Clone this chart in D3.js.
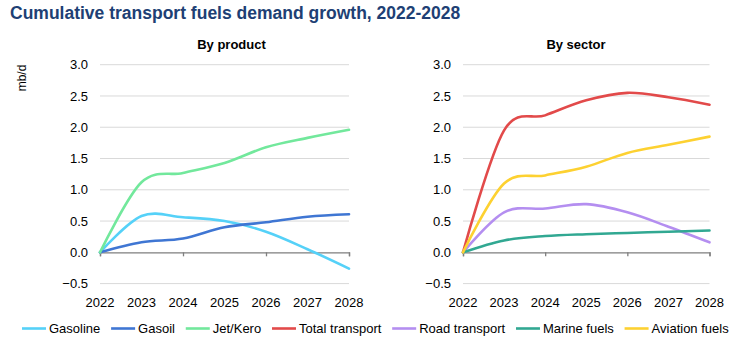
<!DOCTYPE html>
<meta charset="utf-8">
<style>
body { margin: 0; background: #fff; }
svg text { font-family: "Liberation Sans", Arial, sans-serif; }
.grid line { stroke: #d9d9d9; stroke-width: 1; }
.series { fill: none; stroke-width: 2.6; stroke-linejoin: round; stroke-linecap: round; }
</style>
<body>
<script src="https://cdn.jsdelivr.net/npm/d3@7"></script>
<script>

var width = 746,
    height = 347;

// data
var years = [2022, 2023, 2024, 2025, 2026, 2027, 2028];
var yTicks = [-0.5, 0, 0.5, 1.0, 1.5, 2.0, 2.5, 3.0];

var gasoline = [0, 0.58, 0.56, 0.50, 0.33, 0.05, -0.26];
var gasoil   = [0, 0.16, 0.22, 0.40, 0.48, 0.57, 0.61];
var jetKero  = [0, 1.12, 1.27, 1.43, 1.68, 1.83, 1.96];

var totalTransport = [0, 1.95, 2.19, 2.43, 2.55, 2.48, 2.36];
var roadTransport  = [0, 0.64, 0.70, 0.77, 0.64, 0.41, 0.16];
var marineFuels    = [0, 0.19, 0.26, 0.29, 0.31, 0.33, 0.35];
var aviationFuels  = [0, 1.10, 1.23, 1.37, 1.59, 1.72, 1.85];

var productSeries = [
  {name: "Gasoline", values: gasoline, color: "#55d1f8"},
  {name: "Gasoil", values: gasoil, color: "#3f76d3"},
  {name: "Jet/Kero", values: jetKero, color: "#72e89c"}
];
var sectorSeries = [
  {name: "Total transport", values: totalTransport, color: "#e24a4a"},
  {name: "Road transport", values: roadTransport, color: "#b48ef0"},
  {name: "Marine fuels", values: marineFuels, color: "#31a892"},
  {name: "Aviation fuels", values: aviationFuels, color: "#fdd131"}
];

var svg = d3.select("body").append("svg")
    .attr("width", width)
    .attr("height", height);

svg.append("text")
    .attr("x", 10)
    .attr("y", 19)
    .attr("fill", "#203f74")
    .attr("font-weight", "bold")
    .style("font-size", "17.5px")
    .text("Cumulative transport fuels demand growth, 2022-2028");

svg.append("text")
    .attr("transform", "translate(26,78) rotate(-90)")
    .attr("text-anchor", "middle")
    .style("font-size", "12px")
    .text("mb/d");

var y = d3.scaleLinear().domain([-0.5, 3]).range([283.6, 64.7]);

function drawPanel(title, series, x0, x1, labelX, titleX) {
  var x = d3.scaleLinear().domain([2022, 2028]).range([x0, x1]);
  var g = svg.append("g");

  g.append("text")
      .attr("x", titleX)
      .attr("y", 49)
      .attr("text-anchor", "middle")
      .attr("font-weight", "bold")
      .style("font-size", "13px")
      .text(title);

  var grid = g.append("g").attr("class", "grid");
  grid.selectAll("line")
    .data(yTicks.filter(function(d){ return d !== 0; }))
    .enter().append("line")
      .attr("x1", x0).attr("x2", x1)
      .attr("y1", function(d){ return y(d); })
      .attr("y2", function(d){ return y(d); });

  g.selectAll("text.ytick")
    .data(yTicks)
    .enter().append("text")
      .attr("class", "ytick")
      .attr("x", labelX)
      .attr("y", function(d){ return y(d); })
      .attr("dy", "0.35em")
      .attr("text-anchor", "end")
      .style("font-size", "13px")
      .text(function(d){ return d3.format(".1f")(d); });

  // zero axis with ticks every other year
  var axis = d3.axisBottom(x)
      .tickValues([2022, 2024, 2026, 2028])
      .tickSize(4)
      .tickFormat("");
  var ax = g.append("g")
      .attr("transform", "translate(0," + y(0) + ")")
      .call(axis);
  ax.select(".domain").attr("stroke", "#7f7f7f").attr("stroke-width", 1.3);
  ax.selectAll(".tick line").attr("stroke", "#7f7f7f").attr("stroke-width", 1.3);

  g.selectAll("text.xtick")
    .data(years)
    .enter().append("text")
      .attr("class", "xtick")
      .attr("x", function(d){ return x(d); })
      .attr("y", 306.5)
      .attr("text-anchor", "middle")
      .style("font-size", "13px")
      .text(function(d){ return d; });

  var line = d3.line()
      .x(function(d, i){ return x(years[i]); })
      .y(function(d){ return y(d); })
      .curve(d3.curveCardinal.tension(0));

  g.selectAll("path.series")
    .data(series)
    .enter().append("path")
      .attr("class", "series")
      .attr("stroke", function(d){ return d.color; })
      .attr("d", function(d){ return line(d.values); });
}

drawPanel("By product", productSeries, 100, 349, 88, 231.5);
drawPanel("By sector", sectorSeries, 463, 709.5, 451, 576);

// legend
var legend = svg.append("g");
var lx = 22;
productSeries.concat(sectorSeries).forEach(function(s) {
  legend.append("line")
      .attr("x1", lx).attr("x2", lx + 24)
      .attr("y1", 328.5).attr("y2", 328.5)
      .attr("stroke", s.color)
      .attr("stroke-width", 2.6);
  var t = legend.append("text")
      .attr("x", lx + 27)
      .attr("y", 333)
      .style("font-size", "13px")
      .text(s.name);
  lx += 27 + t.node().getComputedTextLength() + 10.8;
});

</script>
</body>
